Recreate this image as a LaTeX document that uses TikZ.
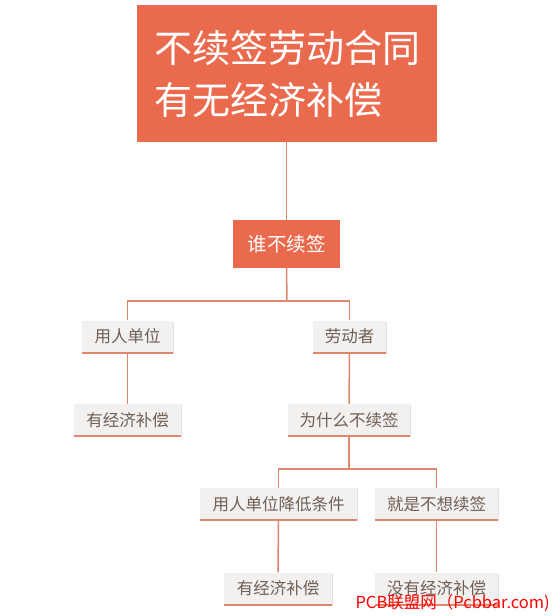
\documentclass[tikz,border=0pt]{standalone}
\usepackage{fontspec}
\newfontfamily\cjk{Noto Sans CJK SC}
\usetikzlibrary{shadows}
\definecolor{coral}{HTML}{EA6A4D}
\definecolor{lineC}{HTML}{E0866C}
\definecolor{boxG}{HTML}{F3F1EF}
\definecolor{txtG}{HTML}{6E5F55}
\tikzset{
  conn/.style={draw=lineC, line width=1.5pt},
  underline/.style={draw=lineC, line width=2pt},
  titlebox/.style={fill=coral, text=white, inner sep=0pt, font=\cjk\fontsize{38}{52}\selectfont, minimum width=300pt, minimum height=137pt, align=left},
  redbox/.style={fill=coral, text=white, inner sep=0pt, font=\cjk\fontsize{19.5}{24}\selectfont, minimum width=107pt, minimum height=48pt},
  graybox/.style={fill=boxG, text=txtG, inner sep=0pt, font=\cjk\fontsize{16.5}{20}\selectfont, minimum height=32pt,
    drop shadow={opacity=0.25, shadow xshift=1pt, shadow yshift=-1pt}}
}
\begin{document}
\begin{tikzpicture}[x=1pt,y=-1pt]
\fill[white] (0,0) rectangle (555,616);
\useasboundingbox (0,0) rectangle (555,616);
\node[titlebox] (title) at (287,73.5) {不续签劳动合同\\有无经济补偿};
\node[redbox] (who) at (286.5,244) {谁不续签};
\node[graybox, minimum width=91pt] (emp) at (127.5,336.5) {用人单位};
\node[graybox, minimum width=107pt] (comp1) at (127.5,420) {有经济补偿};
\node[graybox, minimum width=73pt] (worker) at (349.5,336.5) {劳动者};
\node[graybox, minimum width=122pt] (why) at (349,420) {为什么不续签};
\node[graybox, minimum width=157pt] (lower) at (278.5,504) {用人单位降低条件};
\node[graybox, minimum width=123pt] (nowant) at (436.5,504) {就是不想续签};
\node[graybox, minimum width=108pt] (comp2) at (278,588.5) {有经济补偿};
\node[graybox, minimum width=123pt] (nocomp) at (436.5,588.5) {没有经济补偿};
\foreach \n in {emp,comp1,worker,why,lower,nowant,comp2,nocomp}
  \draw[underline] (\n.south west) -- (\n.south east);
\coordinate (j1) at (287,301);
\coordinate (j2) at (349,469);
\draw[conn] (title.south -| who) -- (who.north);
\draw[conn] (who.south) -- (j1);
\draw[conn] (emp.north) |- (j1) -| (worker.north);
\draw[conn] (emp.south) -- (comp1.north);
\draw[conn] (worker.south) -- (why.north);
\draw[conn] (why.south) -- (j2);
\draw[conn] (lower.north) |- (j2) -| (nowant.north);
\draw[conn] (lower.south) -- (comp2.north);
\draw[conn] (nowant.south) -- (nocomp.north);
\node[text=red, font=\cjk\fontsize{16.5}{18}\selectfont, anchor=east, inner sep=0pt] (wm) at (550,603) {PCB联盟网（Pcbbar.com)};
\end{tikzpicture}
\end{document}
